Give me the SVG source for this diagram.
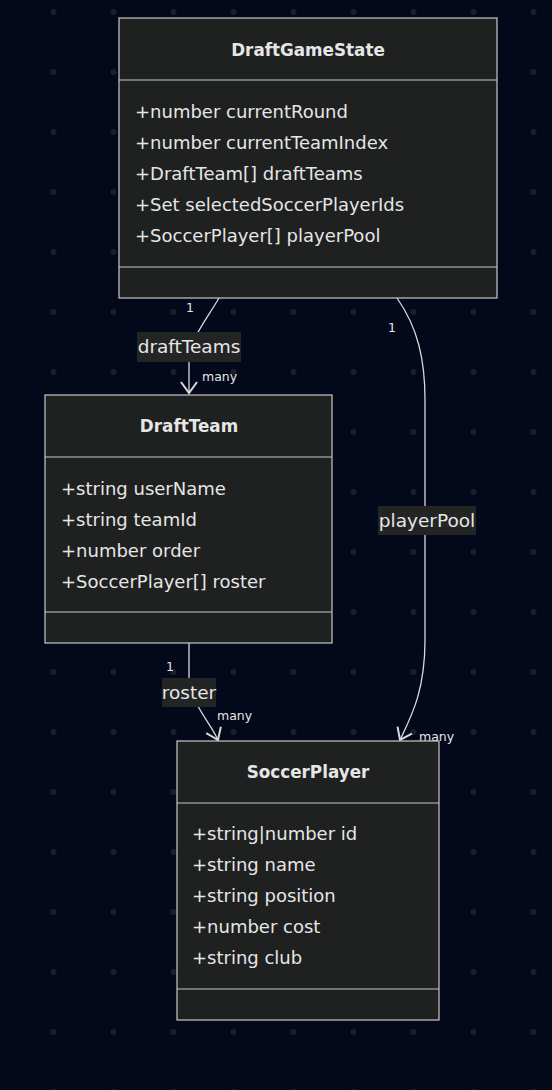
<svg xmlns="http://www.w3.org/2000/svg" width="552" height="1090" viewBox="0 0 552 1090">
<defs>
<pattern id="dots" x="0" y="0" width="60" height="60" patternUnits="userSpaceOnUse">
<circle cx="53.5" cy="12" r="3" fill="#1b1f2c"/>
</pattern>
<marker id="arr" markerUnits="userSpaceOnUse" markerWidth="14" markerHeight="20" viewBox="0 0 14 20" refX="12" refY="10" orient="auto">
<path d="M1,2 L12,10 L1,18" fill="none" stroke="#d9d9d9" stroke-width="2"/>
</marker>
<style>
.box{fill:#1f2020;stroke:#c8c8c8;stroke-width:1.2}
.div{stroke:#c8c8c8;stroke-width:1.2}
.t{font-family:"DejaVu Sans",sans-serif;fill:#e6e6e6}
.title{font-size:16.8px;font-weight:bold;text-anchor:middle}
.attr{font-size:18px}
.lbl{font-size:18.5px;text-anchor:middle}
.lblbg{fill:#232424}
.card{font-size:12.5px;font-family:"DejaVu Sans",sans-serif;fill:#e6e6e6}
.edge{fill:none;stroke:#d9d9d9;stroke-width:1.3}
</style>
</defs>
<rect width="552" height="1090" fill="#03081a"/>
<rect width="552" height="1090" fill="url(#dots)"/>
<g id="connectors">
<path class="edge" d="M219,298 C205,322 189,340 189,362 L189,393" marker-end="url(#arr)"/>
<path class="edge" d="M397,298 C418,328 425,360 425,400 L425,640 C425,690 412,715 400,740" marker-end="url(#arr)"/>
<path class="edge" d="M189,643 L189,680 C192,705 210,722 218,740" marker-end="url(#arr)"/>
<rect class="lblbg" x="137" y="332" width="104" height="30"/>
<text class="t lbl" x="189" y="353">draftTeams</text>
<rect class="lblbg" x="378" y="506" width="98" height="29"/>
<text class="t lbl" x="427" y="527">playerPool</text>
<rect class="lblbg" x="162" y="678" width="54" height="29"/>
<text class="t lbl" x="189" y="699">roster</text>
<text class="card" x="186" y="312">1</text>
<text class="card" x="202" y="381">many</text>
<text class="card" x="388" y="332">1</text>
<text class="card" x="419" y="741">many</text>
<text class="card" x="166" y="671">1</text>
<text class="card" x="217" y="720">many</text>
</g>
<g id="DraftGameState">
<rect class="box" x="119" y="18" width="378" height="280"/>
<line class="div" x1="119" y1="80" x2="497" y2="80"/>
<line class="div" x1="119" y1="267" x2="497" y2="267"/>
<text class="t title" x="308" y="56">DraftGameState</text>
<text class="t attr" x="135" y="118">+number currentRound</text>
<text class="t attr" x="135" y="149">+number currentTeamIndex</text>
<text class="t attr" x="135" y="180">+DraftTeam[] draftTeams</text>
<text class="t attr" x="135" y="211">+Set selectedSoccerPlayerIds</text>
<text class="t attr" x="135" y="242">+SoccerPlayer[] playerPool</text>
</g>
<g id="DraftTeam">
<rect class="box" x="45" y="395" width="287" height="248"/>
<line class="div" x1="45" y1="457" x2="332" y2="457"/>
<line class="div" x1="45" y1="612" x2="332" y2="612"/>
<text class="t title" x="189" y="432">DraftTeam</text>
<text class="t attr" x="61" y="495">+string userName</text>
<text class="t attr" x="61" y="526">+string teamId</text>
<text class="t attr" x="61" y="557">+number order</text>
<text class="t attr" x="61" y="588">+SoccerPlayer[] roster</text>
</g>
<g id="SoccerPlayer">
<rect class="box" x="177" y="741" width="262" height="279"/>
<line class="div" x1="177" y1="803" x2="439" y2="803"/>
<line class="div" x1="177" y1="989" x2="439" y2="989"/>
<text class="t title" x="308" y="778">SoccerPlayer</text>
<text class="t attr" x="192" y="840">+string|number id</text>
<text class="t attr" x="192" y="871">+string name</text>
<text class="t attr" x="192" y="902">+string position</text>
<text class="t attr" x="192" y="933">+number cost</text>
<text class="t attr" x="192" y="964">+string club</text>
</g>
</svg>
